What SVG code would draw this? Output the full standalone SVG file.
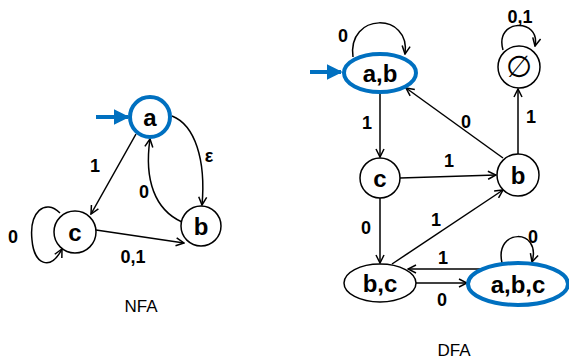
<svg xmlns="http://www.w3.org/2000/svg" width="569" height="360" viewBox="0 0 569 360">
<defs>
<marker id="ah" viewBox="0 0 10 10" refX="9" refY="5" markerWidth="10" markerHeight="10" markerUnits="userSpaceOnUse" orient="auto">
<path d="M1,1 L9,5 L1,9" fill="none" stroke="#000" stroke-width="1.5"/>
</marker>
<marker id="bh" viewBox="0 0 10 10" refX="9" refY="5" markerWidth="4" markerHeight="4" orient="auto">
<path d="M0,0 L10,5 L0,10 Z" fill="#0070C0"/>
</marker>
<style>
.st{fill:#fff;stroke:#000;stroke-width:1.5}
.acc{fill:#fff;stroke:#0070C0;stroke-width:4}
.e{fill:none;stroke:#000;stroke-width:1.5;marker-end:url(#ah)}
.en{fill:none;stroke:#0070C0;stroke-width:4;marker-end:url(#bh)}
.nl{font-family:"Liberation Sans",Arial,sans-serif;font-weight:bold;font-size:24px;text-anchor:middle}
.el{font-family:"Liberation Sans",Arial,sans-serif;font-weight:bold;font-size:18px;text-anchor:middle}
.tl{font-family:"Liberation Sans",Arial,sans-serif;font-size:17px;text-anchor:middle}
</style>
</defs>
<rect width="569" height="360" fill="#fff"/>
<g id="connectors">
<line class="en" x1="96" y1="117" x2="128" y2="117"/>
<line class="e" x1="136" y1="134" x2="91" y2="214"/>
<path class="e" d="M172,116 C195,125 206,160 202,205"/>
<path class="e" d="M182,222 C155,210 144,180 150,139"/>
<path class="e" d="M60,213 C45,198 29,212 32,240 C34,264 50,272 62,249"/>
<line class="e" x1="96" y1="230" x2="184" y2="243"/>
<line class="en" x1="310" y1="72" x2="341" y2="72"/>
<path class="e" d="M353,57 C347,12 411,12 405,54"/>
<path class="e" d="M503,50 C494,18 541,18 535,46"/>
<line class="e" x1="380" y1="93" x2="380" y2="157"/>
<line class="e" x1="503" y1="158" x2="406" y2="88"/>
<line class="e" x1="518" y1="154" x2="518" y2="89"/>
<line class="e" x1="400" y1="178" x2="496" y2="175"/>
<line class="e" x1="380" y1="198" x2="380" y2="263"/>
<line class="e" x1="392" y1="264" x2="503" y2="190"/>
<line class="e" x1="483" y1="269" x2="408" y2="269"/>
<line class="e" x1="416" y1="283" x2="467" y2="283"/>
<path class="e" d="M502,263 C494,228 542,228 532,262"/>
<text class="el" x="95" y="172">1</text>
<text class="el" x="209" y="162">ε</text>
<text class="el" x="144" y="198">0</text>
<text class="el" x="13" y="243">0</text>
<text class="el" x="133" y="263">0,1</text>
<text class="el" x="343" y="42">0</text>
<text class="el" x="520" y="23">0,1</text>
<text class="el" x="367" y="129">1</text>
<text class="el" x="466" y="128">0</text>
<text class="el" x="531" y="123">1</text>
<text class="el" x="449" y="167">1</text>
<text class="el" x="366" y="234">0</text>
<text class="el" x="436" y="226">1</text>
<text class="el" x="443" y="264">1</text>
<text class="el" x="442" y="306">0</text>
<text class="el" x="533" y="243">0</text>
</g>
<g id="nfa-a"><circle class="acc" cx="150" cy="117" r="20"/><text class="nl" x="150" y="126">a</text></g>
<g id="nfa-c"><circle class="st" cx="75" cy="232" r="21"/><text class="nl" x="75" y="241">c</text></g>
<g id="nfa-b"><circle class="st" cx="201" cy="226" r="20"/><text class="nl" x="201" y="235">b</text></g>
<g id="dfa-ab"><ellipse class="acc" cx="380" cy="73" rx="36" ry="19"/><text class="nl" x="380" y="82">a,b</text></g>
<g id="dfa-empty"><circle class="st" cx="519" cy="67" r="21"/><text class="nl" x="519" y="77" style="font-family:'DejaVu Sans',sans-serif;font-weight:normal;font-size:30px">∅</text></g>
<g id="dfa-c"><circle class="st" cx="380" cy="178" r="20"/><text class="nl" x="380" y="187">c</text></g>
<g id="dfa-b"><circle class="st" cx="518" cy="175" r="21"/><text class="nl" x="518" y="184">b</text></g>
<g id="dfa-bc"><ellipse class="st" cx="380" cy="283" rx="36" ry="19"/><text class="nl" x="380" y="292">b,c</text></g>
<g id="dfa-abc"><ellipse class="acc" cx="518" cy="284" rx="50" ry="21"/><text class="nl" x="518" y="293">a,b,c</text></g>
<text class="tl" x="141" y="312">NFA</text>
<text class="tl" x="454" y="356">DFA</text>
</svg>
